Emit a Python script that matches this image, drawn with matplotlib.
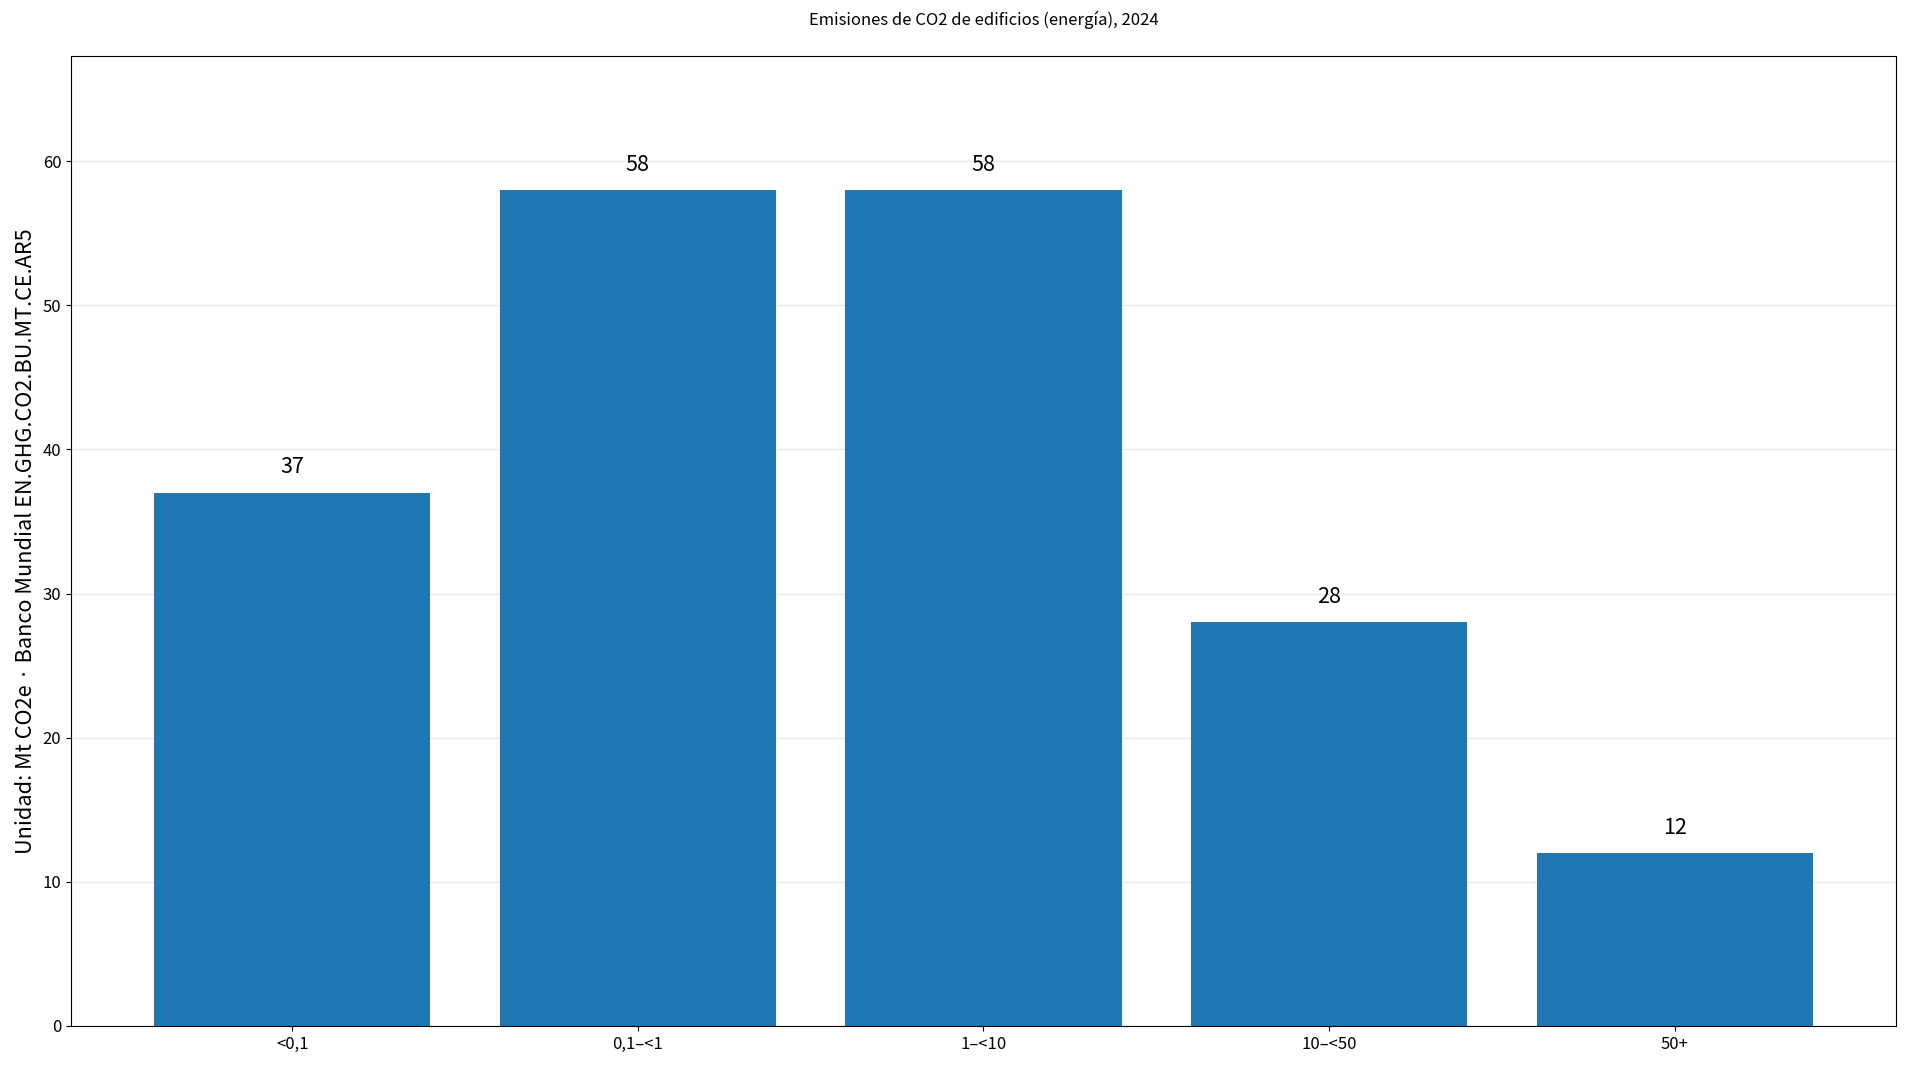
import matplotlib
matplotlib.use('Agg')
import matplotlib.pyplot as plt

plt.rcParams['font.family'] = ['Noto Sans CJK JP', 'DejaVu Sans']

categories = ['<0,1', '0,1–<1', '1–<10', '10–<50', '50+']
values = [37, 58, 58, 28, 12]

fig, ax = plt.subplots(figsize=(19.08, 10.67), dpi=100)
fig.subplots_adjust(left=0.0372, right=0.9937, top=0.9475, bottom=0.0385)

bars = ax.bar(categories, values, width=0.8, color='#1f77b4', zorder=2)
for i, v in enumerate(values):
    ax.text(i, v + 1.0, str(v), ha='center', va='bottom', fontsize=15.5)

ax.set_ylim(0, 67.3)
ax.yaxis.grid(True, color='#ebebeb', linewidth=1, zorder=0)
ax.set_axisbelow(True)
ax.tick_params(labelsize=12)
ax.set_ylabel('Unidad: Mt CO2e · Banco Mundial EN.GHG.CO2.BU.MT.CE.AR5', fontsize=15.6)
ax.set_title('Emisiones de CO2 de edificios (energía), 2024', fontsize=12, pad=22)

fig.savefig('out.png', dpi=100)
